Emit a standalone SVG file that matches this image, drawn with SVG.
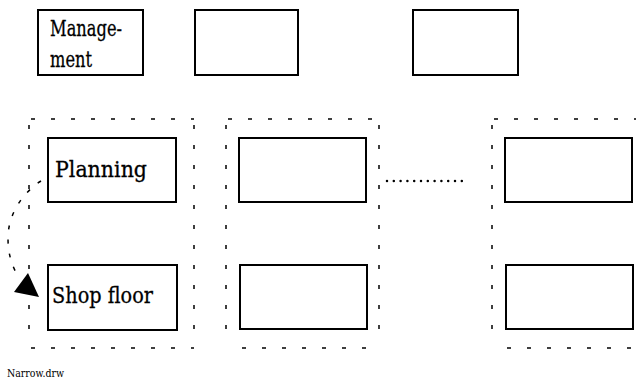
<svg xmlns="http://www.w3.org/2000/svg" width="639" height="386" viewBox="0 0 639 386">
<style>
.box{fill:#fff;stroke:#000;stroke-width:2}
.cont{fill:none;stroke:#000;stroke-width:1.5;stroke-dasharray:4 16}
.lbl{font-family:"DejaVu Serif","Liberation Serif",serif;font-size:23px;fill:#000;stroke:#000;stroke-width:0.3}
.dots{fill:none;stroke:#000;stroke-width:2.5;stroke-linecap:round;stroke-dasharray:0 6.8}
.arc{fill:none;stroke:#000;stroke-width:1.5;stroke-dasharray:4 10}
.cap{font-family:"DejaVu Serif","Liberation Serif",serif;font-size:11px;fill:#000}
</style>
<rect width="639" height="386" fill="#fff"/>
<g id="containers">
  <g id="container1">
    <line class="cont" x1="31" y1="119" x2="194" y2="119"/>
    <line class="cont" x1="31" y1="348" x2="194" y2="348"/>
    <line class="cont" x1="29" y1="125" x2="29" y2="345"/>
    <line class="cont" x1="194" y1="125" x2="194" y2="345"/>
  </g>
  <g id="container2">
    <line class="cont" x1="228" y1="119" x2="379" y2="119"/>
    <line class="cont" x1="242" y1="348" x2="379" y2="348"/>
    <line class="cont" x1="226" y1="125" x2="226" y2="345"/>
    <line class="cont" x1="379" y1="125" x2="379" y2="345"/>
  </g>
  <g id="container3">
    <line class="cont" x1="494" y1="119" x2="636" y2="119"/>
    <line class="cont" x1="507" y1="348" x2="636" y2="348"/>
    <line class="cont" x1="492" y1="125" x2="492" y2="345"/>
  </g>
</g>
<g id="management">
  <rect class="box" x="38" y="10" width="105" height="65"/>
  <text class="lbl" x="50" y="36" textLength="72" lengthAdjust="spacingAndGlyphs">Manage-</text>
  <text class="lbl" x="50" y="67" textLength="42" lengthAdjust="spacingAndGlyphs">ment</text>
</g>
<g id="top2"><rect class="box" x="195" y="10" width="103" height="65"/></g>
<g id="top3"><rect class="box" x="413" y="10" width="105" height="65"/></g>
<g id="planning">
  <rect class="box" x="48" y="138" width="128" height="64"/>
  <text class="lbl" x="55" y="177" textLength="92" lengthAdjust="spacingAndGlyphs">Planning</text>
</g>
<g id="shopfloor">
  <rect class="box" x="48" y="265" width="129" height="65"/>
  <text class="lbl" x="52" y="303" textLength="101" lengthAdjust="spacingAndGlyphs">Shop floor</text>
</g>
<g id="mid2"><rect class="box" x="239" y="138" width="127" height="64"/></g>
<g id="bot2"><rect class="box" x="240" y="265" width="127" height="64"/></g>
<g id="mid3"><rect class="box" x="505" y="138" width="127" height="64"/></g>
<g id="bot3"><rect class="box" x="506" y="265" width="127" height="64"/></g>
<g id="connectors">
  <line class="dots" x1="387" y1="181" x2="462" y2="181"/>
  <path class="arc" d="M41,181 C22,193 8,215 8,238 C8,254 12,266 17,274"/>
  <polygon points="14,292 28,273 39,297" fill="#000"/>
</g>
<text class="cap" x="7" y="377" textLength="57" lengthAdjust="spacingAndGlyphs">Narrow.drw</text>
</svg>
